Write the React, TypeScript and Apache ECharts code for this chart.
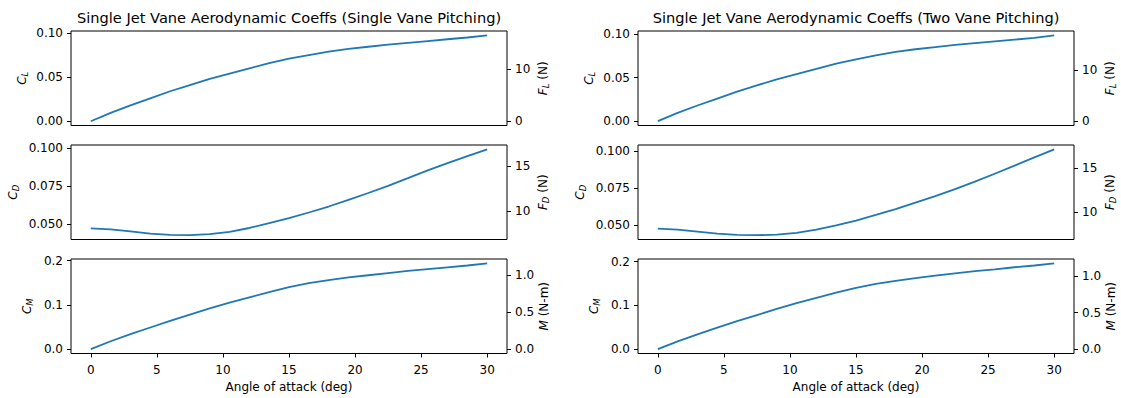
import React, { useEffect, useRef } from "react";
import * as echarts from "echarts";

const angles = [0, 1.5, 3, 4.5, 6, 7.5, 9, 10.5, 12, 13.5, 15, 16.5, 18, 19.5, 21, 22.5, 24, 25.5, 27, 28.5, 30];

const clSingle = [0, 0.0095, 0.018, 0.026, 0.034, 0.041, 0.048, 0.054, 0.06, 0.066, 0.071, 0.075, 0.079, 0.082, 0.0845, 0.087, 0.089, 0.091, 0.093, 0.095, 0.0975];
const cdSingle = [0.0475, 0.0468, 0.0455, 0.044, 0.0432, 0.043, 0.0437, 0.0452, 0.0477, 0.0508, 0.0542, 0.0578, 0.0617, 0.066, 0.0705, 0.0752, 0.0802, 0.0853, 0.09, 0.0945, 0.099];
const cmSingle = [0, 0.018, 0.034, 0.049, 0.064, 0.078, 0.092, 0.105, 0.117, 0.129, 0.14, 0.149, 0.156, 0.162, 0.167, 0.172, 0.177, 0.181, 0.185, 0.189, 0.194];

const clTwo = [0, 0.0095, 0.018, 0.026, 0.034, 0.041, 0.048, 0.054, 0.06, 0.066, 0.071, 0.0755, 0.0795, 0.0825, 0.085, 0.0875, 0.0895, 0.0915, 0.0935, 0.0955, 0.0985];
const cdTwo = [0.0475, 0.0468, 0.0455, 0.0441, 0.0433, 0.0431, 0.0435, 0.0447, 0.0468, 0.0497, 0.053, 0.0568, 0.0607, 0.065, 0.0695, 0.0742, 0.0792, 0.0845, 0.09, 0.0955, 0.101];
const cmTwo = [0, 0.018, 0.034, 0.049, 0.064, 0.078, 0.092, 0.105, 0.117, 0.129, 0.14, 0.149, 0.156, 0.162, 0.168, 0.173, 0.178, 0.182, 0.187, 0.191, 0.196];

const FORCE_FACTOR = 170;
const MOMENT_FACTOR = 6;

const xTicks = [0, 5, 10, 15, 20, 25, 30];
const clTicks = [0, 0.05, 0.1];
const cdTicks = [0.05, 0.075, 0.1];
const cmTicks = [0, 0.1, 0.2];
const flTicks = [0, 10];
const fdTicks = [10, 15];
const mTicks = [0, 0.5, 1.0];

const titles = [
  "Single Jet Vane Aerodynamic Coeffs (Single Vane Pitching)",
  "Single Jet Vane Aerodynamic Coeffs (Two Vane Pitching)",
];
const xLabel = "Angle of attack (deg)";

const FONT = "DejaVu Sans";
const LINE = "#1f77b4";
const FS = 12;

function autoRange(vals: number[]): [number, number] {
  const lo = Math.min(...vals);
  const hi = Math.max(...vals);
  const pad = (hi - lo) * 0.05;
  return [lo - pad, hi + pad];
}

const rows = [
  { leftName: "{i|C}{s|L}", rightName: "{i|F}{s|L} (N)", leftTicks: clTicks, leftDec: 2, rightTicks: flTicks, rightDec: 0, factor: FORCE_FACTOR, leftGap: 42 },
  { leftName: "{i|C}{s|D}", rightName: "{i|F}{s|D} (N)", leftTicks: cdTicks, leftDec: 3, rightTicks: fdTicks, rightDec: 0, factor: FORCE_FACTOR, leftGap: 51 },
  { leftName: "{i|C}{s|M}", rightName: "{i|M} (N-m)", leftTicks: cmTicks, leftDec: 1, rightTicks: mTicks, rightDec: 1, factor: MOMENT_FACTOR, leftGap: 37 },
];

const columns = [
  { left: 71, width: 436, data: [clSingle, cdSingle, cmSingle] },
  { left: 638, width: 436, data: [clTwo, cdTwo, cmTwo] },
];

const rowTops = [31, 145, 259];
const rowHeight = 94.5;

const rich = {
  i: { fontFamily: FONT, fontSize: FS, fontStyle: "italic", color: "#000", lineHeight: 15, verticalAlign: "middle" },
  s: { fontFamily: FONT, fontSize: 8.5, fontStyle: "italic", color: "#000", lineHeight: 8, verticalAlign: "bottom" },
};

export default function App() {
  const ref = useRef<HTMLDivElement>(null);
  useEffect(() => {
    if (!ref.current) return;
    const chart = echarts.init(ref.current, undefined, { renderer: "svg" });
    const grid: any[] = [];
    const xAxis: any[] = [];
    const yAxis: any[] = [];
    const series: any[] = [];
    const graphic: any[] = [];

    const tick = (vals: number[], show = true) => ({
      show,
      customValues: vals,
      length: 4,
      inside: false,
      lineStyle: { color: "#000", width: 1 },
    });

    columns.forEach((col, c) => {
      graphic.push({
        type: "text",
        x: col.left + col.width / 2,
        y: 17,
        style: { text: titles[c], align: "center", verticalAlign: "middle", font: `14.6px "${FONT}"`, fill: "#000" },
      });
      rows.forEach((row, r) => {
        const gi = grid.length;
        const isBottom = r === rows.length - 1;
        grid.push({
          left: col.left,
          top: rowTops[r],
          width: col.width,
          height: rowHeight,
          show: true,
          borderColor: "#000",
          borderWidth: 1,
          backgroundColor: "transparent",
        });
        xAxis.push({
          type: "value",
          gridIndex: gi,
          position: "bottom",
          min: -1.5,
          max: 31.5,
          axisLine: { show: false, onZero: false },
          splitLine: { show: false },
          axisTick: tick(xTicks, isBottom),
          axisLabel: {
            show: isBottom,
            customValues: xTicks,
            margin: 10,
            fontFamily: FONT,
            fontSize: FS,
            color: "#000",
            formatter: (v: number) => String(v),
          },
          name: isBottom ? xLabel : "",
          nameLocation: "middle",
          nameGap: 27,
          nameTextStyle: { fontFamily: FONT, fontSize: FS, color: "#000" },
        });
        const vals = col.data[r];
        const [lo, hi] = autoRange(vals);
        yAxis.push({
          type: "value",
          gridIndex: gi,
          position: "left",
          min: lo,
          max: hi,
          axisLine: { show: false, onZero: false },
          splitLine: { show: false },
          axisTick: tick(row.leftTicks),
          axisLabel: {
            customValues: row.leftTicks,
            margin: 8,
            fontFamily: FONT,
            fontSize: FS,
            color: "#000",
            formatter: (v: number) => v.toFixed(row.leftDec),
          },
          name: row.leftName,
          nameLocation: "middle",
          nameRotate: 90,
          nameGap: row.leftGap,
          nameTextStyle: { fontFamily: FONT, fontSize: FS, color: "#000", rich },
        });
        yAxis.push({
          type: "value",
          gridIndex: gi,
          position: "right",
          min: lo * row.factor,
          max: hi * row.factor,
          axisLine: { show: false, onZero: false },
          splitLine: { show: false },
          axisTick: tick(row.rightTicks),
          axisLabel: {
            customValues: row.rightTicks,
            margin: 8,
            fontFamily: FONT,
            fontSize: FS,
            color: "#000",
            formatter: (v: number) => v.toFixed(row.rightDec),
          },
          name: row.rightName,
          nameLocation: "middle",
          nameRotate: 90,
          nameGap: 28,
          nameTextStyle: { fontFamily: FONT, fontSize: FS, color: "#000", rich },
        });
        series.push({
          type: "line",
          xAxisIndex: gi,
          yAxisIndex: gi * 2,
          data: angles.map((a, j) => [a, vals[j]]),
          showSymbol: false,
          symbol: "none",
          lineStyle: { color: LINE, width: 1.8 },
          silent: true,
        });
      });
    });

    chart.setOption({
      animation: false,
      backgroundColor: "#fff",
      grid,
      xAxis,
      yAxis,
      series,
      graphic,
    });
    return () => chart.dispose();
  }, []);
  return (
    <div
      ref={ref}
      style={{ position: "fixed", left: 0, top: 0, width: 1121, height: 398 }}
    />
  );
}
